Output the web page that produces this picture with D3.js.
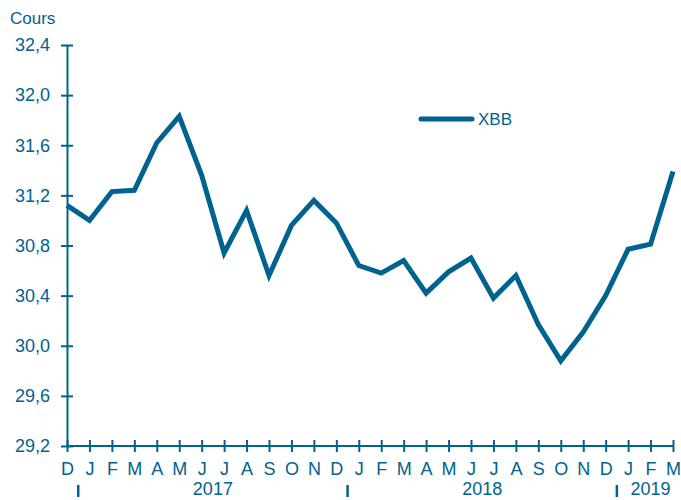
<!DOCTYPE html>
<html>
  <head>
    <meta http-equiv="Content-Type" content="text/html;charset=utf-8"/>
    <script src="https://d3js.org/d3.v7.min.js"></script>
    <style type="text/css">
    body { margin: 0; background: #fff; }
    text { font-family: "Liberation Sans", Arial, sans-serif; fill: #00628f; }
    .axis path, .axis line { stroke: #00628f; stroke-width: 2px; }
    </style>
  </head>
  <body>
    <script type="text/javascript">
      var months = ["D","J","F","M","A","M","J","J","A","S","O","N",
                    "D","J","F","M","A","M","J","J","A","S","O","N",
                    "D","J","F","M"];
      var xbb = [31.12, 31.00, 31.23, 31.24, 31.62, 31.83, 31.36, 30.74, 31.08, 30.56, 30.96, 31.16,
                 30.98, 30.64, 30.58, 30.68, 30.42, 30.59, 30.70, 30.38, 30.56, 30.17, 29.88, 30.11,
                 30.40, 30.77, 30.81, 31.39];
      var yTicks = [29.2, 29.6, 30.0, 30.4, 30.8, 31.2, 31.6, 32.0, 32.4];
      // year label spans: first and last month index of each year
      var years = [{label: "2017", from: 1, to: 12}, {label: "2018", from: 13, to: 24}, {label: "2019", from: 25, to: 27}];
      var yearBreaks = [0.5, 12.5, 24.5];

      var width = 681, height = 500;
      var mLeft = 67, mRight = 673, mTop = 45, mBottom = 446;
      var color = "#00628f";

      var svg = d3.select("body").append("svg")
        .attr("width", width)
        .attr("height", height);

      var x = d3.scaleLinear().domain([0, months.length - 1]).range([mLeft, mRight]);
      var y = d3.scaleLinear().domain([29.2, 32.4]).range([mBottom, mTop]);

      var fmt = function(d) { return d3.format(".1f")(d).replace(".", ","); };

      // y axis
      var yAxis = d3.axisLeft(y).tickValues(yTicks).tickFormat(fmt).tickSizeInner(6).tickSizeOuter(0).tickPadding(11);
      var gy = svg.append("g").attr("class", "axis")
        .attr("transform", "translate(" + mLeft + ",0)")
        .call(yAxis);
      gy.selectAll(".tick line").attr("x2", 6).attr("x1", -6);
      gy.selectAll(".tick text").style("font-size", "18px").attr("fill", color);

      // x axis
      var xAxis = d3.axisBottom(x).tickValues(d3.range(months.length))
        .tickFormat(function(i) { return months[i]; })
        .tickSizeInner(6).tickSizeOuter(0).tickPadding(10);
      var gx = svg.append("g").attr("class", "axis")
        .attr("transform", "translate(0," + mBottom + ")")
        .call(xAxis);
      gx.selectAll(".tick line").attr("y1", -6).attr("y2", 6);
      gx.selectAll(".tick text").style("font-size", "18px").attr("fill", color);
      gx.select(".domain").attr("d", "M" + mLeft + ",0H" + mRight);

      // year labels
      svg.selectAll(".year").data(years).enter().append("text")
        .attr("class", "year")
        .attr("x", function(d) { return (x(d.from) + x(d.to)) / 2; })
        .attr("y", 495)
        .attr("text-anchor", "middle")
        .style("font-size", "18px")
        .text(function(d) { return d.label; });

      svg.selectAll(".brk").data(yearBreaks).enter().append("line")
        .attr("x1", function(d) { return x(d); })
        .attr("x2", function(d) { return x(d); })
        .attr("y1", 485).attr("y2", 497)
        .attr("stroke", color).attr("stroke-width", 2.5);

      // y title
      svg.append("text").attr("x", 10).attr("y", 24).style("font-size", "17px").text("Cours");

      // line
      var line = d3.line().x(function(d, i) { return x(i); }).y(function(d) { return y(d); });
      svg.append("path").datum(xbb)
        .attr("d", line)
        .attr("fill", "none")
        .attr("stroke", color)
        .attr("stroke-width", 5)
        .attr("stroke-linejoin", "miter");

      // legend
      svg.append("line").attr("x1", 421).attr("x2", 472).attr("y1", 119).attr("y2", 119)
        .attr("stroke", color).attr("stroke-width", 5).attr("stroke-linecap", "round");
      svg.append("text").attr("x", 478).attr("y", 125).style("font-size", "17px").text("XBB");
    </script>
  </body>
</html>
